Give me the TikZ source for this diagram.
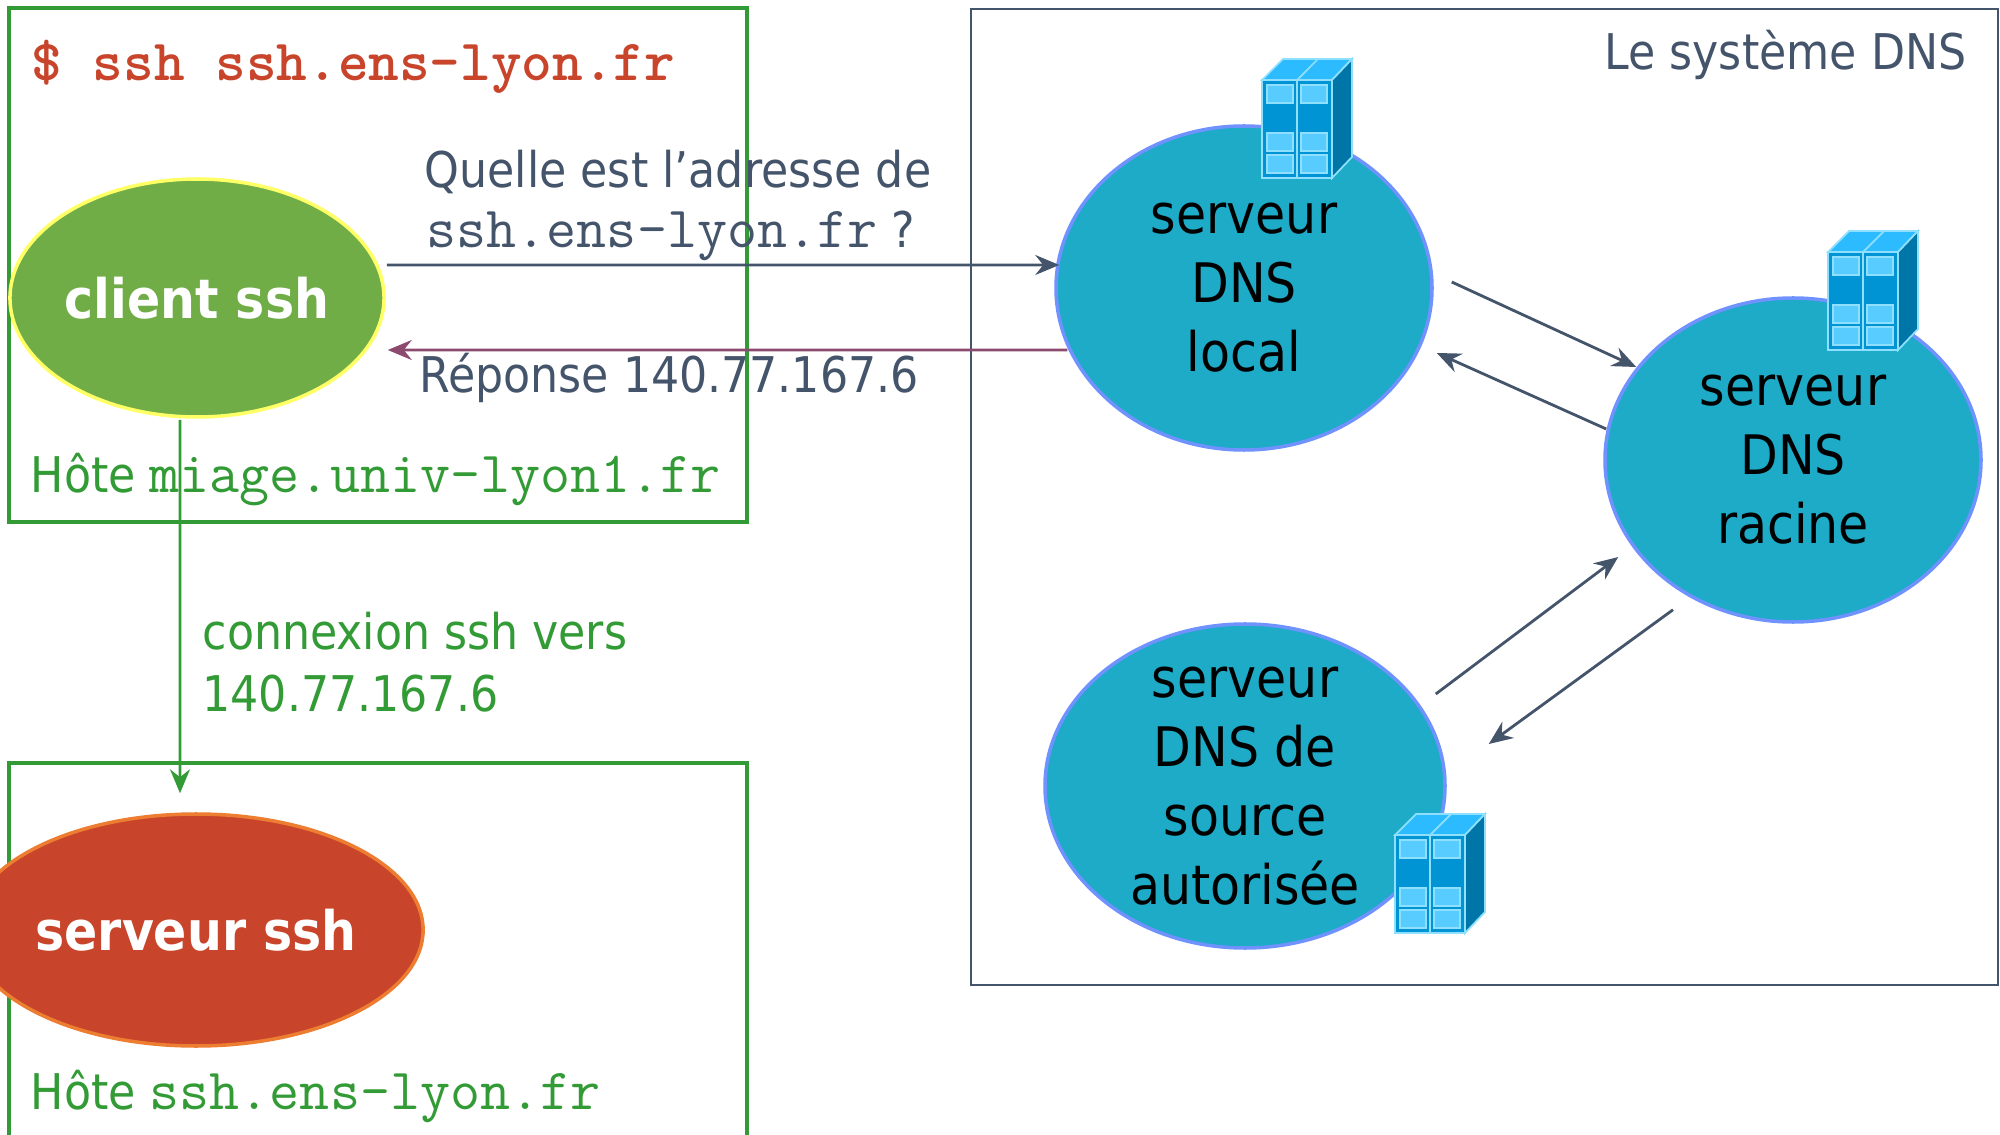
\documentclass[tikz,border=0pt]{standalone}
\usepackage{fontspec}
\setmainfont{DejaVu Sans Condensed}
\usetikzlibrary{arrows.meta,shapes.geometric}
\definecolor{hostgreen}{HTML}{339B36}
\definecolor{dnsgray}{HTML}{44546A}
\definecolor{cmdred}{HTML}{C8452B}
\definecolor{clientgreen}{HTML}{70AD47}
\definecolor{clientline}{HTML}{FFFF66}
\definecolor{serverline}{HTML}{ED7D31}
\definecolor{dnsteal}{HTML}{1DABC7}
\definecolor{dnsline}{HTML}{6F92FF}
\definecolor{replyplum}{HTML}{8B4A6E}
\definecolor{rackfront}{HTML}{0094D4}
\definecolor{rackside}{HTML}{0076A8}
\definecolor{racktop}{HTML}{2DBBFF}
\definecolor{rackwin}{HTML}{59CCFF}
\definecolor{rackline}{HTML}{8FE0FF}
\tikzset{
    hostbox/.style={draw=hostgreen,line width=1.2pt},
    sshnode/.style={ellipse,line width=1pt,inner sep=0pt,text=white,
        font=\fontsize{15.5}{15.5}\selectfont\bfseries},
    dnsserver/.style={ellipse,draw=dnsline,line width=1pt,fill=dnsteal,inner sep=0pt},
    rack/.pic={
        \begin{scope}[draw=rackline,line width=0.5pt]
            \filldraw[fill=racktop] (0,0) -- (0.21,0.21) -- (0.9,0.21) -- (0.7,0) -- cycle;
            \draw (0.35,0) -- (0.56,0.21);
            \filldraw[fill=rackside] (0.7,0) -- (0.9,0.21) -- (0.9,-0.77) -- (0.7,-0.98) -- cycle;
            \filldraw[fill=rackfront] (0,0) rectangle (0.7,-0.98);
            \draw (0.35,0) -- (0.35,-0.98);
            \foreach \wx in {0.05,0.39}
                \foreach \wy in {-0.05,-0.53,-0.75}
                    \filldraw[fill=rackwin] (\wx,\wy) rectangle (\wx+0.26,\wy-0.18);
        \end{scope}
    }
}
\begin{document}
\begin{tikzpicture}
\useasboundingbox (0,0) rectangle (20,-11.35);

% boxes
\draw[hostbox] (0.09,-0.08) rectangle (7.47,-5.22);
\draw[hostbox] (0.09,-11.6) -- (0.09,-7.63) -- (7.47,-7.63) -- (7.47,-11.6);
\draw[draw=dnsgray,line width=0.6pt] (9.71,-0.09) rectangle (19.98,-9.85);

% ssh nodes
\begin{scope}[every node/.style={sshnode}]
    \node[draw=clientline,fill=clientgreen,minimum width=3.42cm,minimum height=2.38cm] (Client) at (1.97,-2.98) {client ssh};
    \node[draw=serverline,fill=cmdred,minimum width=3.40cm,minimum height=2.32cm] (ServerSsh) at (1.96,-9.30) {serveur ssh};
\end{scope}

% dns servers
\begin{scope}[every node/.style={dnsserver}]
    \node[minimum width=3.76cm,minimum height=3.24cm] (Local) at (12.44,-2.88) {};
    \node[minimum width=3.76cm,minimum height=3.24cm] (Root) at (17.93,-4.60) {};
    \node[minimum width=4.00cm,minimum height=3.24cm] (Source) at (12.45,-7.86) {};
\end{scope}
\begin{scope}[every node/.style={align=center,text=black,font=\fontsize{15.5}{19.6}\selectfont}]
    \node (LocalText) at (Local) {serveur\\DNS\\local};
    \node (RootText) at (Root) {serveur\\DNS\\racine};
    \node (SourceText) at (Source) {serveur\\DNS de\\source\\autorisée};
\end{scope}
\pic at (12.62,-0.80) {rack};
\pic at (18.28,-2.52) {rack};
\pic at (13.95,-8.35) {rack};

% labels
\begin{scope}[every node/.style={anchor=base west,inner sep=0pt,font=\fontsize{14}{14}\selectfont}]
    \node[text=cmdred,font=\fontsize{16.6}{16.6}\ttfamily\bfseries] (Cmd) at (0.31,-0.81) {\$ ssh ssh.ens-lyon.fr};
    \node[text=dnsgray] (Question) at (4.24,-1.88) {Quelle est l'adresse de};
    \node[text=dnsgray] (QuestionB) at (4.26,-2.48) {{\fontsize{16.6}{16.6}\ttfamily ssh.ens-lyon.fr} ?};
    \node[text=dnsgray] (Reply) at (4.19,-3.93) {Réponse 140.77.167.6};
    \node[text=hostgreen] (HostA) at (0.30,-4.93) {Hôte {\fontsize{16.6}{16.6}\ttfamily miage.univ-lyon1.fr}};
    \node[text=hostgreen] (Conn) at (2.02,-6.50) {connexion ssh vers};
    \node[text=hostgreen] (ConnB) at (2.02,-7.12) {140.77.167.6};
    \node[text=hostgreen] (HostB) at (0.30,-11.09) {Hôte {\fontsize{16.6}{16.6}\ttfamily ssh.ens-lyon.fr}};
    \node[text=dnsgray,anchor=base east] (DnsTitle) at (19.67,-0.70) {Le système DNS};
\end{scope}

% connectors
\begin{scope}[>={Stealth[length=2.4mm,width=2mm,inset=0.8mm]},
              every edge/.style={draw,line width=0.8pt}]
    \path [->] ([shift={(0.01,0.33)}]Client.east) edge[draw=dnsgray] ([shift={(0.05,0.23)}]Local.west);
    \path [->,replyplum] ([shift={(0.13,-0.62)}]Local.west) edge[draw=replyplum] ([shift={(0.02,-0.52)}]Client.east);
    \path [->,hostgreen] ([shift={(-0.17,-0.01)}]Client.south) edge[draw=hostgreen] ([shift={(-0.16,0.19)}]ServerSsh.north);
    \path [->,dnsgray] ([shift={(0.18,0.06)}]Local.east) edge[draw=dnsgray] ([shift={(0.33,0.93)}]Root.west);
    \path [->,dnsgray] ([shift={(0.03,0.31)}]Root.west) edge[draw=dnsgray] ([shift={(0.03,-0.65)}]Local.east);
    \path [->,dnsgray] ([shift={(-0.11,0.92)}]Source.east) edge[draw=dnsgray] ([shift={(0.15,-0.97)}]Root.west);
    \path [->,dnsgray] ([shift={(-1.20,0.14)}]Root.south) edge[draw=dnsgray] ([shift={(0.42,0.42)}]Source.east);
\end{scope}
\end{tikzpicture}
\end{document}
